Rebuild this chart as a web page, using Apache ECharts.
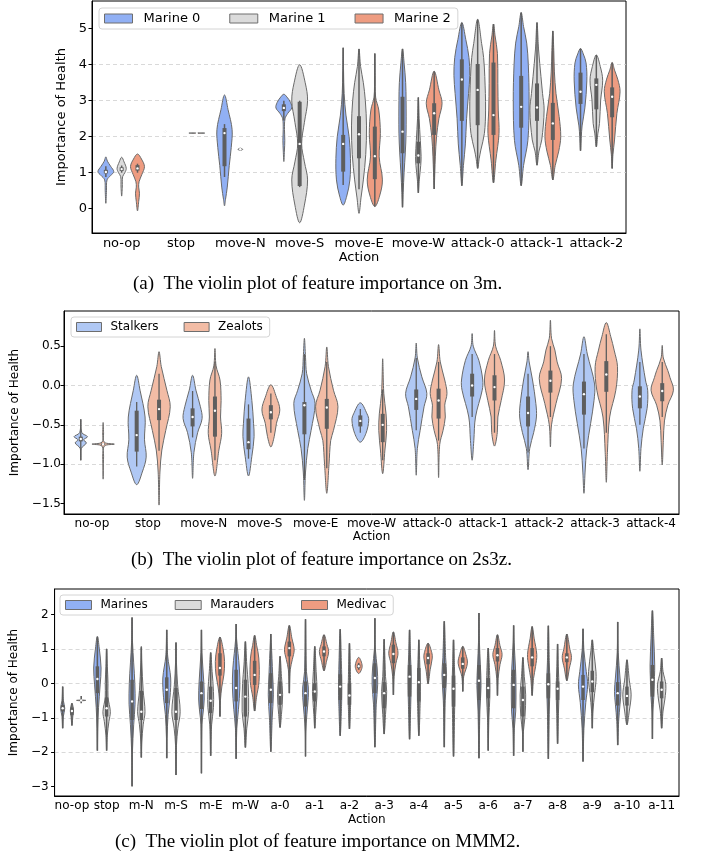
<!DOCTYPE html>
<html>
<head>
<meta charset="utf-8">
<script src="https://cdn.jsdelivr.net/npm/echarts@6/dist/echarts.min.js"></script>
<style>
html, body { margin: 0; padding: 0; background: #fff; }
#main { width: 710px; height: 854px; }
</style>
</head>
<body>
<div id="main"></div>
<script>
// each violin: [category index, [low, q1, median, q3, high], [[value, relative half width], ...]]
var catA = ['no-op', 'stop', 'move-N', 'move-S', 'move-E', 'move-W', 'attack-0', 'attack-1', 'attack-2'];
var namesA = ['Marine 0', 'Marine 1', 'Marine 2'];
var marine0 = [
    [0, [0.88, 0.98, 1.02, 1.08, 1.18], [[0.15, 0], [0.5, 0.08], [0.8, 0.15], [0.92, 0.6], [1.03, 1.0], [1.18, 0.6], [1.32, 0.2], [1.44, 0]]],
    [1, [2.14, 2.14, 2.14, 2.14, 2.14], [[2.13, 0], [2.14, 0.08], [2.15, 0]]],
    [2, [0.88, 1.18, 2.1, 2.24, 2.35], [[0.08, 0], [0.25, 0.12], [0.6, 0.35], [1.2, 0.6], [1.7, 0.85], [2.2, 0.96], [2.75, 0.45], [3.16, 0]]],
    [3, [2.45, 2.71, 2.8, 2.9, 3.0], [[1.31, 0], [1.6, 0.07], [1.9, 0.12], [2.2, 0.08], [2.5, 0.15], [2.65, 0.5], [2.8, 1.0], [2.95, 0.85], [3.1, 0.4], [3.18, 0]]],
    [4, [0.66, 1.03, 1.8, 2.05, 4.47], [[0.1, 0], [0.35, 0.45], [0.8, 0.85], [1.4, 0.92], [2.0, 0.75], [2.6, 0.35], [3.2, 0.12], [3.8, 0.05], [4.47, 0]]],
    [5, [0.04, 1.54, 2.14, 3.11, 4.44], [[0.04, 0], [0.45, 0.08], [1.0, 0.2], [1.55, 0.35], [2.1, 0.45], [3.0, 0.45], [3.5, 0.4], [4.05, 0.2], [4.44, 0]]],
    [6, [0.64, 2.44, 3.59, 4.15, 5.17], [[0.64, 0], [1.2, 0.2], [1.8, 0.45], [2.5, 0.6], [3.2, 0.85], [3.7, 1.0], [4.2, 0.9], [4.7, 0.5], [5.17, 0]]],
    [7, [0.64, 2.25, 2.83, 3.69, 5.45], [[0.64, 0], [1.2, 0.3], [1.9, 0.85], [3.0, 1.0], [4.0, 0.9], [4.6, 0.7], [5.06, 0.3], [5.45, 0]]],
    [8, [1.61, 2.91, 3.25, 3.78, 4.45], [[1.61, 0], [2.0, 0.1], [2.3, 0.2], [2.8, 0.55], [3.55, 0.8], [4.05, 0.7], [4.3, 0.35], [4.45, 0]]]
];
var marine1 = [
    [0, [1.0, 1.05, 1.1, 1.15, 1.2], [[0.35, 0], [0.6, 0.08], [0.89, 0.12], [1.0, 0.4], [1.12, 0.58], [1.3, 0.3], [1.43, 0]]],
    [2, [1.65, 1.65, 1.65, 1.65, 1.65], [[1.62, 0], [1.65, 0.3], [1.68, 0]]],
    [3, [0.6, 0.63, 1.8, 2.97, 3.0], [[-0.39, 0], [0.1, 0.6], [0.8, 1.0], [1.3, 0.6], [1.8, 0.25], [2.4, 0.6], [3.0, 1.0], [3.5, 0.7], [4.0, 0]]],
    [4, [0.54, 1.4, 2.07, 2.57, 4.44], [[-0.13, 0], [0.3, 0.25], [0.8, 0.55], [1.5, 0.85], [2.3, 0.95], [3.0, 0.8], [3.5, 0.55], [3.95, 0.2], [4.44, 0]]],
    [5, [0.44, 1.26, 1.48, 1.86, 3.09], [[0.44, 0], [0.8, 0.12], [1.2, 0.3], [1.45, 0.35], [1.9, 0.25], [2.5, 0.1], [3.09, 0]]],
    [6, [1.12, 2.32, 3.3, 4.02, 5.26], [[1.12, 0], [1.4, 0.2], [1.63, 0.4], [2.09, 0.85], [2.74, 1.0], [3.67, 0.9], [4.2, 0.75], [4.59, 0.5], [5.26, 0]]],
    [7, [1.21, 2.44, 2.81, 3.48, 5.17], [[1.21, 0], [1.6, 0.25], [1.91, 0.6], [2.74, 0.9], [3.2, 0.7], [3.67, 0.5], [4.41, 0.2], [5.17, 0]]],
    [8, [1.72, 2.76, 3.44, 3.62, 4.27], [[1.72, 0], [2.1, 0.2], [2.37, 0.4], [3.02, 0.55], [3.57, 0.8], [3.95, 0.5], [4.27, 0]]]
];
var marine2 = [
    [0, [1.0, 1.06, 1.12, 1.21, 1.25], [[-0.06, 0], [0.2, 0.15], [0.43, 0.25], [0.6, 0.15], [0.75, 0.2], [0.95, 0.55], [1.17, 0.88], [1.38, 0.5], [1.52, 0]]],
    [1, [2.1, 2.1, 2.1, 2.1, 2.1], [[2.095, 0], [2.1, 1.0], [2.105, 0]]],
    [4, [0.06, 0.82, 1.46, 2.28, 4.31], [[0.06, 0], [0.35, 0.6], [0.8, 0.96], [1.44, 0.55], [2.09, 0.7], [2.74, 0.5], [3.1, 0.1], [3.7, 0.04], [4.31, 0]]],
    [5, [0.55, 2.05, 2.65, 2.93, 3.82], [[0.55, 0], [1.0, 0.08], [1.44, 0.15], [2.0, 0.3], [2.5, 0.6], [2.93, 1.0], [3.3, 0.6], [3.82, 0]]],
    [6, [0.72, 2.05, 2.6, 4.06, 5.13], [[0.72, 0], [1.35, 0.3], [2.09, 0.7], [2.74, 0.6], [3.48, 0.55], [4.31, 0.5], [4.8, 0.2], [5.13, 0]]],
    [7, [0.8, 1.91, 2.37, 2.94, 4.94], [[0.8, 0], [1.2, 0.3], [1.6, 0.75], [2.0, 1.0], [2.56, 0.8], [3.2, 0.4], [3.8, 0.2], [4.4, 0.12], [4.94, 0]]],
    [8, [1.12, 2.54, 3.11, 3.37, 4.06], [[1.12, 0], [1.5, 0.1], [1.91, 0.3], [2.65, 0.6], [3.25, 1.0], [3.6, 0.7], [3.85, 0.3], [4.06, 0]]]
];

var catB = ['no-op', 'stop', 'move-N', 'move-S', 'move-E', 'move-W', 'attack-0', 'attack-1', 'attack-2', 'attack-3', 'attack-4'];
var namesB = ['Stalkers', 'Zealots'];
var stalkers = [
    [0, [-0.95, -0.71, -0.68, -0.65, -0.43], [[-0.95, 0], [-0.8, 0.05], [-0.73, 0.5], [-0.69, 0.25], [-0.65, 0.6], [-0.6, 0.1], [-0.43, 0]]],
    [1, [-1.03, -0.84, -0.63, -0.32, -0.21], [[-1.26, 0], [-1.1, 0.5], [-0.91, 0.85], [-0.69, 0.7], [-0.4, 0.75], [-0.06, 0.3], [0.13, 0]]],
    [2, [-0.66, -0.52, -0.4, -0.29, -0.07], [[-1.18, 0], [-0.85, 0.12], [-0.6, 0.45], [-0.42, 0.85], [-0.27, 0.7], [-0.06, 0.3], [0.13, 0]]],
    [3, [-0.93, -0.81, -0.72, -0.42, -0.24], [[-1.15, 0], [-0.9, 0.3], [-0.65, 0.5], [-0.48, 0.45], [-0.19, 0.3], [0.11, 0]]],
    [4, [-1.2, -0.62, -0.25, -0.21, 0.4], [[-1.46, 0], [-1.1, 0.1], [-0.8, 0.3], [-0.57, 0.6], [-0.23, 0.95], [-0.06, 0.6], [0.15, 0.2], [0.36, 0.1], [0.6, 0]]],
    [5, [-0.6, -0.52, -0.45, -0.38, -0.3], [[-0.72, 0], [-0.61, 0.5], [-0.44, 0.75], [-0.36, 0.6], [-0.22, 0]]],
    [6, [-0.57, -0.31, -0.17, -0.05, 0.35], [[-1.14, 0], [-0.8, 0.1], [-0.57, 0.35], [-0.27, 0.7], [-0.1, 0.95], [0.11, 0.5], [0.35, 0.1], [0.54, 0]]],
    [7, [-0.4, -0.14, 0.0, 0.15, 0.4], [[-0.95, 0], [-0.7, 0.15], [-0.4, 0.3], [-0.06, 0.9], [0.07, 0.95], [0.32, 0.6], [0.5, 0.1], [0.66, 0]]],
    [8, [-0.85, -0.52, -0.35, -0.14, 0.15], [[-1.07, 0], [-0.8, 0.15], [-0.6, 0.5], [-0.4, 0.75], [-0.23, 0.7], [0.07, 0.4], [0.3, 0.1], [0.43, 0]]],
    [9, [-0.8, -0.37, -0.11, 0.05, 0.4], [[-1.37, 0], [-1.1, 0.1], [-0.8, 0.25], [-0.48, 0.6], [-0.19, 0.9], [0.02, 0.95], [0.4, 0.3], [0.62, 0]]],
    [10, [-0.5, -0.29, -0.14, -0.01, 0.3], [[-1.09, 0], [-0.8, 0.1], [-0.55, 0.3], [-0.29, 0.65], [-0.06, 0.7], [0.07, 0.5], [0.45, 0.1], [0.72, 0]]]
];
var zealots = [
    [0, [-0.76, -0.755, -0.745, -0.735, -0.73], [[-1.19, 0], [-0.9, 0.04], [-0.77, 0.1], [-0.745, 1.0], [-0.72, 0.1], [-0.6, 0.04], [-0.47, 0]]],
    [1, [-0.83, -0.44, -0.3, -0.18, 0.15], [[-1.52, 0], [-1.1, 0.08], [-0.82, 0.25], [-0.57, 0.6], [-0.27, 1.0], [-0.06, 0.7], [0.24, 0.2], [0.43, 0]]],
    [2, [-0.95, -0.65, -0.32, -0.14, 0.3], [[-1.15, 0], [-0.82, 0.35], [-0.61, 0.6], [-0.4, 0.5], [-0.19, 0.55], [0.07, 0.45], [0.25, 0.1], [0.47, 0]]],
    [3, [-0.6, -0.43, -0.34, -0.25, -0.1], [[-0.78, 0], [-0.65, 0.3], [-0.48, 0.5], [-0.31, 0.8], [-0.15, 0.5], [0.01, 0]]],
    [4, [-1.05, -0.55, -0.28, -0.17, 0.3], [[-1.37, 0], [-1.0, 0.2], [-0.7, 0.35], [-0.57, 0.6], [-0.27, 1.0], [-0.06, 0.6], [0.24, 0.15], [0.49, 0]]],
    [5, [-0.95, -0.72, -0.5, -0.36, -0.05], [[-1.12, 0], [-0.82, 0.2], [-0.57, 0.35], [-0.36, 0.3], [-0.1, 0.1], [0.34, 0]]],
    [6, [-0.7, -0.42, -0.19, -0.04, 0.3], [[-1.17, 0], [-0.75, 0.1], [-0.57, 0.4], [-0.4, 0.6], [-0.25, 0.55], [-0.1, 0.75], [0.07, 0.55], [0.3, 0.15], [0.52, 0]]],
    [7, [-0.6, -0.19, -0.02, 0.13, 0.4], [[-0.77, 0], [-0.6, 0.25], [-0.4, 0.3], [-0.19, 0.6], [0.07, 0.9], [0.32, 0.55], [0.5, 0.1], [0.7, 0]]],
    [8, [-0.4, -0.09, 0.06, 0.19, 0.5], [[-0.78, 0], [-0.5, 0.1], [-0.23, 0.5], [0.09, 1.0], [0.3, 0.6], [0.45, 0.4], [0.6, 0.1], [0.83, 0]]],
    [9, [-0.6, -0.08, 0.14, 0.31, 0.65], [[-1.23, 0], [-0.85, 0.1], [-0.4, 0.3], [-0.06, 0.85], [0.24, 1.0], [0.45, 0.7], [0.62, 0.4], [0.8, 0]]],
    [10, [-0.4, -0.2, -0.07, 0.03, 0.3], [[-1.01, 0], [-0.7, 0.1], [-0.45, 0.2], [-0.25, 0.5], [-0.06, 1.0], [0.1, 0.7], [0.19, 0.5], [0.35, 0.1], [0.51, 0]]]
];

var catC = ['no-op', 'stop', 'm-N', 'm-S', 'm-E', 'm-W', 'a-0', 'a-1', 'a-2', 'a-3', 'a-4', 'a-5', 'a-6', 'a-7', 'a-8', 'a-9', 'a-10', 'a-11'];
var namesC = ['Marines', 'Marauders', 'Medivac'];
var marines = [
    [0, [-1.3, -0.81, -0.72, -0.62, -0.09], [[-1.3, 0], [-0.95, 0.15], [-0.72, 0.45], [-0.5, 0.15], [-0.09, 0]]],
    [1, [-1.95, -0.28, 0.13, 0.5, 1.36], [[-1.95, 0], [-1.3, 0.08], [-0.7, 0.25], [-0.04, 0.6], [0.45, 0.8], [1.03, 0.4], [1.37, 0]]],
    [2, [-2.99, -1.06, -0.52, 0.11, 1.92], [[-2.99, 0], [-2.0, 0.08], [-1.2, 0.35], [-0.6, 0.65], [0, 0.6], [0.6, 0.35], [1.2, 0.1], [1.92, 0]]],
    [3, [-2.17, -0.57, -0.18, 0.18, 1.56], [[-2.17, 0], [-1.6, 0.05], [-0.9, 0.3], [-0.4, 0.7], [0.16, 0.85], [0.8, 0.2], [1.56, 0]]],
    [4, [-2.61, -0.74, -0.28, 0.06, 1.56], [[-2.61, 0], [-1.2, 0.1], [-0.8, 0.4], [-0.45, 0.6], [0.06, 0.5], [0.9, 0.1], [1.56, 0]]],
    [5, [-2.19, -0.52, -0.13, 0.4, 1.73], [[-2.19, 0], [-1.3, 0.15], [-0.75, 0.5], [-0.13, 0.8], [0.45, 0.7], [1.3, 0.1], [1.73, 0]]],
    [6, [-1.98, -0.57, -0.18, 0.3, 1.44], [[-1.98, 0], [-1.0, 0.3], [-0.33, 0.55], [0.25, 0.4], [1.2, 0.1], [1.44, 0]]],
    [7, [-2.12, -0.67, -0.28, 0.06, 1.87], [[-2.12, 0], [-1.4, 0.05], [-0.9, 0.3], [-0.4, 0.6], [-0.1, 0.6], [0.35, 0.2], [1.87, 0]]],
    [8, [-1.52, -0.48, -0.09, 0.27, 1.58], [[-1.52, 0], [-0.6, 0.3], [-0.1, 0.35], [0.4, 0.3], [1.58, 0]]],
    [9, [-1.85, -0.28, 0.16, 0.59, 1.9], [[-1.85, 0], [-0.6, 0.3], [-0.04, 0.6], [0.45, 0.5], [1.0, 0.1], [1.9, 0]]],
    [10, [-1.62, -0.38, 0.2, 0.54, 1.56], [[-1.62, 0], [-0.6, 0.25], [0.2, 0.35], [0.8, 0.2], [1.56, 0]]],
    [11, [-1.85, -0.13, 0.25, 0.59, 1.81], [[-1.85, 0], [-0.5, 0.2], [0.25, 0.5], [0.75, 0.3], [1.81, 0]]],
    [12, [-2.17, -0.48, 0.08, 0.54, 2.05], [[-2.17, 0], [-0.8, 0.2], [-0.06, 0.45], [0.54, 0.3], [1.2, 0.1], [2.05, 0]]],
    [13, [-2.1, -0.72, -0.04, 0.4, 1.69], [[-2.1, 0], [-1.3, 0.15], [-0.8, 0.45], [-0.04, 0.5], [0.45, 0.4], [1.2, 0.1], [1.69, 0]]],
    [14, [-2.19, -0.43, -0.02, 0.3, 1.68], [[-2.19, 0], [-0.8, 0.2], [-0.02, 0.35], [0.6, 0.2], [1.68, 0]]],
    [15, [-2.27, -0.48, -0.09, 0.25, 1.59], [[-2.27, 0], [-1.3, 0.2], [-0.55, 0.6], [-0.04, 1.0], [0.35, 0.7], [0.95, 0.2], [1.59, 0]]],
    [16, [-1.79, -0.64, -0.28, 0.04, 1.79], [[-1.79, 0], [-1.1, 0.2], [-0.6, 0.5], [-0.23, 0.7], [0.16, 0.5], [0.9, 0.1], [1.79, 0]]],
    [17, [-1.61, -0.38, 0.11, 0.54, 2.12], [[-1.61, 0], [-0.8, 0.1], [-0.4, 0.3], [0.2, 0.45], [0.54, 0.5], [1.3, 0.3], [2.12, 0]]]
];
var marauders = [
    [0, [-1.22, -0.91, -0.8, -0.7, -0.57], [[-1.22, 0], [-0.95, 0.2], [-0.8, 0.35], [-0.65, 0.2], [-0.57, 0]]],
    [1, [-1.95, -0.96, -0.72, -0.4, 1.0], [[-1.95, 0], [-1.5, 0.15], [-1.1, 0.5], [-0.82, 0.8], [-0.4, 0.3], [0.0, 0.3], [0.5, 0.15], [1.01, 0]]],
    [2, [-2.15, -1.06, -0.82, -0.21, 1.05], [[-2.15, 0], [-1.7, 0.1], [-1.2, 0.4], [-0.82, 0.8], [-0.2, 0.4], [0.6, 0.1], [1.08, 0]]],
    [3, [-2.66, -1.06, -0.82, -0.13, 1.19], [[-2.66, 0], [-1.8, 0.1], [-1.3, 0.4], [-0.82, 0.9], [-0.04, 0.35], [0.6, 0.1], [1.19, 0]]],
    [4, [-2.1, -0.86, -0.5, -0.09, 0.9], [[-2.1, 0], [-1.2, 0.2], [-0.7, 0.6], [-0.23, 0.6], [0.35, 0.3], [0.9, 0]]],
    [5, [-1.86, -0.96, -0.38, 0.11, 1.22], [[-1.86, 0], [-1.3, 0.3], [-0.82, 0.7], [0.0, 0.6], [0.54, 0.3], [1.22, 0]]],
    [6, [-1.28, -0.62, -0.33, 0.06, 0.79], [[-1.28, 0], [-0.9, 0.3], [-0.33, 0.55], [0.2, 0.3], [0.79, 0]]],
    [7, [-1.3, -0.52, -0.23, 0.01, 1.08], [[-1.3, 0], [-0.9, 0.2], [-0.5, 0.4], [-0.23, 0.5], [0.35, 0.3], [1.08, 0]]],
    [8, [-1.32, -0.62, -0.35, 0.01, 1.17], [[-1.32, 0], [-0.6, 0.25], [0.0, 0.25], [1.17, 0]]],
    [9, [-1.47, -0.72, -0.28, 0.04, 1.29], [[-1.47, 0], [-0.9, 0.3], [-0.23, 0.55], [0.2, 0.3], [0.6, 0.2], [1.29, 0]]],
    [10, [-1.52, -0.52, 0.04, 0.45, 1.27], [[-1.52, 0], [-0.5, 0.3], [0.04, 0.3], [0.6, 0.2], [1.27, 0]]],
    [11, [-2.12, -0.67, -0.15, 0.23, 1.27], [[-2.12, 0], [-0.7, 0.25], [-0.15, 0.3], [0.5, 0.2], [1.27, 0]]],
    [12, [-1.95, -0.43, -0.13, 0.16, 1.03], [[-1.95, 0], [-1.0, 0.15], [-0.4, 0.35], [0.1, 0.35], [1.03, 0]]],
    [13, [-1.98, -0.96, -0.48, -0.09, 0.76], [[-1.98, 0], [-1.4, 0.1], [-0.96, 0.45], [-0.33, 0.6], [0.2, 0.3], [0.76, 0]]],
    [14, [-1.75, -0.48, -0.15, 0.06, 1.15], [[-1.75, 0], [-0.8, 0.2], [-0.15, 0.3], [0.5, 0.15], [1.15, 0]]],
    [15, [-1.3, -0.25, 0.06, 0.37, 1.27], [[-1.3, 0], [-0.8, 0.15], [-0.3, 0.5], [0.06, 0.8], [0.35, 0.8], [0.95, 0.3], [1.27, 0]]],
    [16, [-1.2, -0.64, -0.36, -0.09, 0.69], [[-1.2, 0], [-0.8, 0.5], [-0.33, 0.9], [0.1, 0.5], [0.69, 0]]],
    [17, [-1.3, -0.43, -0.18, 0.06, 0.74], [[-1.3, 0], [-0.8, 0.3], [-0.45, 0.7], [-0.04, 0.9], [0.35, 0.3], [0.74, 0]]]
];
var medivac = [
    [0, [-0.57, -0.5, -0.49, -0.48, -0.36], [[-0.5, 0], [-0.49, 1.0], [-0.48, 0]]],
    [4, [-0.96, 0.23, 0.45, 0.88, 1.35], [[-0.96, 0], [-0.5, 0.1], [-0.1, 0.4], [0.25, 0.85], [0.64, 1.0], [1.03, 0.65], [1.35, 0]]],
    [5, [-0.8, -0.04, 0.25, 0.66, 1.4], [[-0.8, 0], [-0.4, 0.4], [0.06, 0.95], [0.74, 0.9], [1.1, 0.45], [1.4, 0]]],
    [6, [-0.28, 0.79, 1.03, 1.22, 1.69], [[-0.28, 0], [0.4, 0.2], [0.7, 0.65], [0.98, 1.05], [1.32, 0.55], [1.69, 0]]],
    [7, [0.37, 0.79, 0.93, 1.08, 1.42], [[0.37, 0], [0.65, 0.55], [0.93, 1.0], [1.13, 0.65], [1.42, 0]]],
    [8, [0.4, 0.45, 0.5, 0.55, 0.6], [[0.29, 0], [0.5, 0.75], [0.76, 0]]],
    [9, [-0.33, 0.59, 0.86, 1.13, 1.5], [[-0.33, 0], [0.2, 0.15], [0.59, 0.55], [0.88, 1.0], [1.18, 0.55], [1.5, 0]]],
    [10, [-0.01, 0.56, 0.74, 0.88, 1.17], [[-0.01, 0], [0.4, 0.45], [0.74, 0.9], [0.9, 0.8], [1.17, 0]]],
    [11, [-0.23, 0.43, 0.57, 0.76, 1.08], [[-0.23, 0], [0.2, 0.2], [0.59, 1.0], [0.85, 0.65], [1.08, 0]]],
    [12, [-0.35, 0.64, 0.82, 1.03, 1.42], [[-0.35, 0], [0.15, 0.15], [0.55, 0.55], [0.84, 1.0], [1.1, 0.55], [1.42, 0]]],
    [13, [-0.35, 0.5, 0.76, 1.03, 1.66], [[-0.35, 0], [0.15, 0.3], [0.5, 0.75], [0.84, 1.0], [1.3, 0.45], [1.66, 0]]],
    [14, [0.08, 0.62, 0.76, 0.88, 1.44], [[0.08, 0], [0.45, 0.55], [0.76, 1.0], [1.0, 0.65], [1.44, 0]]]
];

var blue = '#91b0f4', grey = '#dbdbdb', orange = '#ee9c81';
var blueB = '#b0c8f4', orangeB = '#f2bca5';
var font = 'DejaVu Sans';

function violin(name, color, rows, gi, hue, nHue, boxW, whiskW) {
    return {
        name: name,
        type: 'custom',
        xAxisIndex: gi,
        yAxisIndex: gi,
        color: color,
        clip: true,
        data: rows.map(function (r) { return [r[0], r[1][2]]; }),
        renderItem: function (params, api) {
            var r = rows[params.dataIndex];
            var slot = api.size([1, 0])[0] * 0.8 / nHue;
            var cx = api.coord([r[0], 0])[0] + (hue - (nHue - 1) / 2) * slot;
            var half = slot / 2;
            var y = function (v) { return api.coord([r[0], v])[1]; };
            var sh = r[2], pts = [];
            for (var i = 0; i < sh.length; i++) pts.push([cx + sh[i][1] * half, y(sh[i][0])]);
            for (var j = sh.length - 2; j > 0; j--) pts.push([cx - sh[j][1] * half, y(sh[j][0])]);
            var b = r[1];
            return {
                type: 'group',
                children: [
                    { type: 'polygon', shape: { points: pts, smooth: 0.35 }, style: { fill: color, stroke: '#6a6a6a', lineWidth: 1 } },
                    { type: 'line', shape: { x1: cx, y1: y(b[0]), x2: cx, y2: y(b[4]) }, style: { stroke: '#5e5e5e', lineWidth: whiskW } },
                    { type: 'line', shape: { x1: cx, y1: y(b[1]), x2: cx, y2: y(b[3]) }, style: { stroke: '#5e5e5e', lineWidth: boxW } },
                    { type: 'circle', shape: { cx: cx, cy: y(b[2]), r: 1.2 }, style: { fill: '#fff' } }
                ]
            };
        }
    };
}

function minus(v, digits) {
    var s = digits ? v.toFixed(digits) : String(v);
    if (Math.abs(v) < 1e-9) s = digits ? (0).toFixed(digits) : '0';
    return s.replace('-', '\u2212');
}

function xAx(gi, cats, fs, gap) {
    return {
        gridIndex: gi, type: 'category', data: cats,
        axisLine: { onZero: false, lineStyle: { color: '#000', width: 1 } },
        axisTick: { alignWithLabel: true, length: 3.5, lineStyle: { color: '#000' } },
        axisLabel: { color: '#000', fontSize: fs, fontFamily: font, margin: 4, interval: 0 },
        name: 'Action', nameLocation: 'middle', nameGap: gap,
        nameTextStyle: { color: '#000', fontSize: fs, fontFamily: font }
    };
}

function yAx(gi, min, max, split, ticks, digits, fs, margin, gap) {
    return {
        gridIndex: gi, type: 'value', min: min, max: max, splitNumber: split,
        axisLine: { show: true, onZero: false, lineStyle: { color: '#000', width: 1 } },
        axisTick: { show: true, length: 3.5, customValues: ticks, lineStyle: { color: '#000' } },
        axisLabel: {
            color: '#000', fontSize: fs, fontFamily: font, margin: margin, customValues: ticks,
            formatter: function (v) { return minus(v, digits); }
        },
        splitLine: { show: true, showMinLine: false, showMaxLine: false, lineStyle: { color: '#cfcfcf', type: [4, 3], width: 0.8 } },
        name: 'Importance of Health', nameLocation: 'middle', nameRotate: 90, nameGap: gap,
        nameTextStyle: { color: '#000', fontSize: fs, fontFamily: font }
    };
}

function legend(names, left, top, fs, iw, gap, pad) {
    return {
        data: names, left: left, top: top, orient: 'horizontal',
        icon: 'rect', itemWidth: iw, itemHeight: 9, itemGap: gap,
        itemStyle: { borderColor: '#6e6e6e', borderWidth: 1 },
        textStyle: { color: '#000', fontSize: fs, fontFamily: font, padding: [0, 0, 0, pad] },
        padding: [4, 7, 4, 5], borderColor: '#d4d4d4', borderWidth: 1, borderRadius: 3,
        backgroundColor: 'rgba(255,255,255,0.85)', selectedMode: false
    };
}

function caption(text, left, top) {
    return {
        text: text, left: left, top: top, padding: 0,
        textStyle: { fontFamily: 'Liberation Serif', fontSize: 19, fontWeight: 'normal', color: '#000' }
    };
}

var chart = echarts.init(document.getElementById('main'));
chart.setOption({
    animation: false,
    backgroundColor: '#fff',
    title: [
        caption('(a)  The violin plot of feature importance on 3m.', 133, 275),
        caption('(b)  The violin plot of feature importance on 2s3z.', 131, 551),
        caption('(c)  The violin plot of feature importance on MMM2.', 115, 833)
    ],
    legend: [
        legend(namesA, 99, 8, 13, 28, 29, 6),
        legend(namesB, 71, 317, 12, 25, 25, 4),
        legend(namesC, 60, 595, 12, 26, 27, 4)
    ],
    grid: [
        { left: 92, top: 1, width: 534, height: 232, show: true, borderColor: '#000', borderWidth: 1, backgroundColor: 'transparent' },
        { left: 64, top: 311, width: 615, height: 203, show: true, borderColor: '#000', borderWidth: 1, backgroundColor: 'transparent' },
        { left: 53, top: 589, width: 626, height: 207, show: true, borderColor: '#000', borderWidth: 1, backgroundColor: 'transparent' }
    ],
    xAxis: [xAx(0, catA, 13, 18), xAx(1, catB, 12, 17), xAx(2, catC, 12, 18)],
    yAxis: [
        yAx(0, -0.675, 5.77, 6, [0, 1, 2, 3, 4, 5], 0, 13, 5, 16),
        yAx(1, -1.633, 0.947, 5, [-1.5, -1, -0.5, 0, 0.5], 1, 12, 3, 36),
        yAx(2, -3.27, 2.748, 6, [-3, -2, -1, 0, 1, 2], 0, 12, 6, 25)
    ],
    series: [
        violin(namesA[0], blue, marine0, 0, 0, 3, 4, 1.5),
        violin(namesA[1], grey, marine1, 0, 1, 3, 4, 1.5),
        violin(namesA[2], orange, marine2, 0, 2, 3, 4, 1.5),
        violin(namesB[0], blueB, stalkers, 1, 0, 2, 4, 1.3),
        violin(namesB[1], orangeB, zealots, 1, 1, 2, 4, 1.3),
        violin(namesC[0], blue, marines, 2, 0, 3, 3.5, 1.6),
        violin(namesC[1], grey, marauders, 2, 1, 3, 3.5, 1.6),
        violin(namesC[2], orange, medivac, 2, 2, 3, 3.5, 1.6)
    ]
});
</script>
</body>
</html>
